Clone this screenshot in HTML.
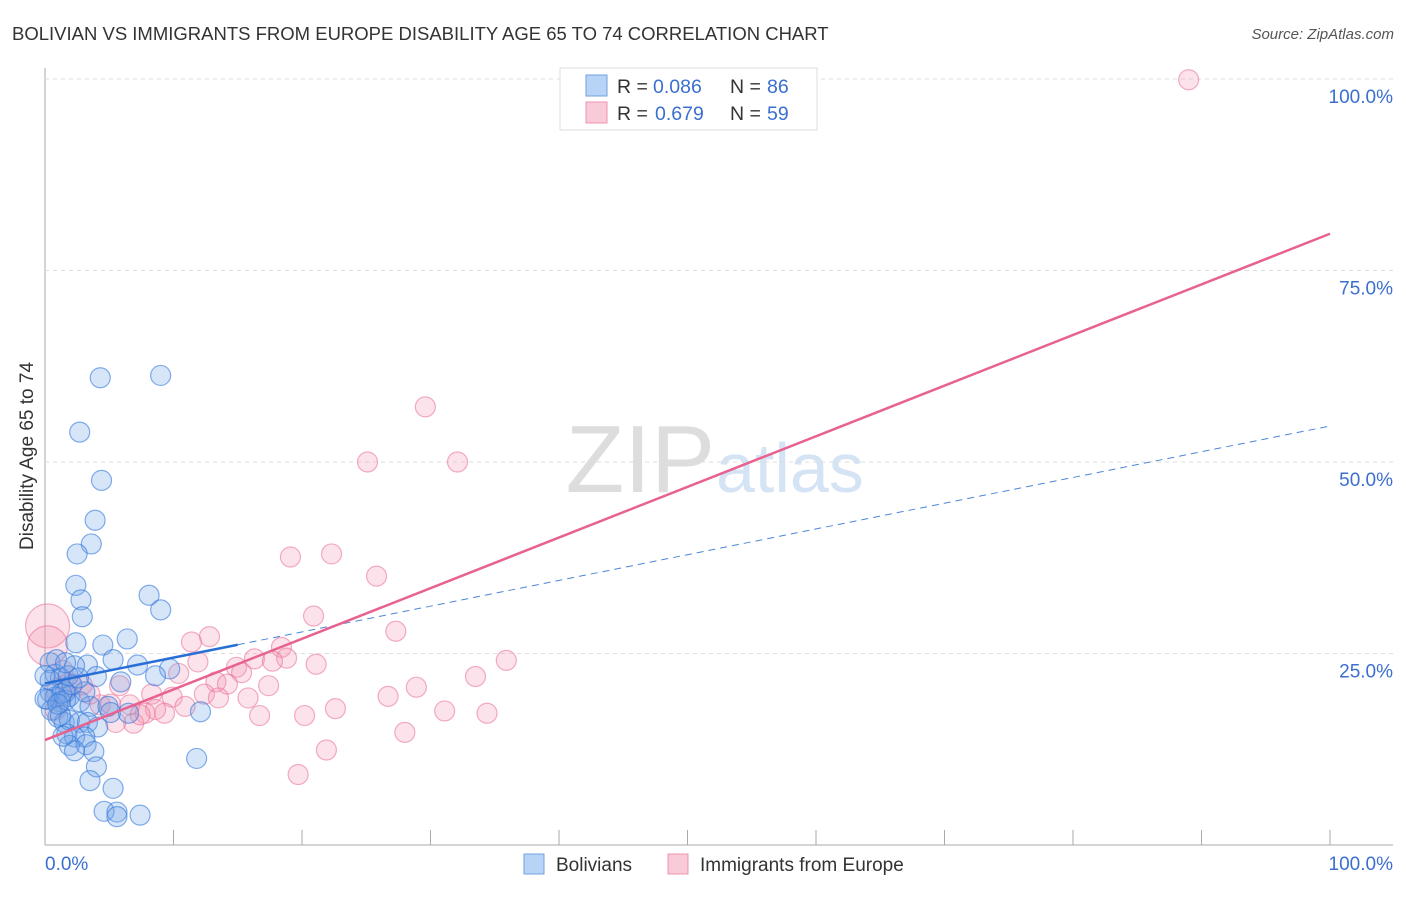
<!DOCTYPE html>
<html><head><meta charset="utf-8"><style>
body{margin:0;background:#fff;font-family:"Liberation Sans",sans-serif;}
svg text{font-family:"Liberation Sans",sans-serif;}
</style></head><body>
<svg id="chart" width="1406" height="892">
<text x="12" y="40" font-size="18.5" fill="#333">BOLIVIAN VS IMMIGRANTS FROM EUROPE DISABILITY AGE 65 TO 74 CORRELATION CHART</text>
<text x="1394" y="39" font-size="15" fill="#555" font-style="italic" text-anchor="end">Source: ZipAtlas.com</text>
<text x="33" y="456" font-size="19" fill="#333" text-anchor="middle" transform="rotate(-90 33 456)">Disability Age 65 to 74</text>
<text x="715" y="492" font-size="96" fill="#ddd" text-anchor="end" font-family="Liberation Serif">ZIP</text>
<text x="716" y="492" font-size="70" fill="#d5e4f5">atlas</text>
<g id="grid"></g><g id="pts"></g><g id="lines"></g>
<g>
<rect x="560" y="68" width="257" height="62" fill="#fff" stroke="#ddd"/>
<rect x="586" y="75" width="21" height="21" fill="#b7d3f5" stroke="#6fa1e0"/>
<rect x="586" y="102" width="21" height="21" fill="#f9cad8" stroke="#ec94ad"/>
<text x="617" y="93" font-size="19.5" fill="#333">R =</text>
<text x="653" y="93" font-size="19.5" fill="#3a6fd0">0.086</text>
<text x="730" y="93" font-size="19.5" fill="#333">N =</text>
<text x="767" y="93" font-size="19.5" fill="#3a6fd0">86</text>
<text x="617" y="120" font-size="19.5" fill="#333">R =</text>
<text x="655" y="120" font-size="19.5" fill="#3a6fd0">0.679</text>
<text x="730" y="120" font-size="19.5" fill="#333">N =</text>
<text x="767" y="120" font-size="19.5" fill="#3a6fd0">59</text>
</g>
<g>
<rect x="524" y="854" width="20" height="20" fill="#b7d3f5" stroke="#6fa1e0"/>
<text x="556" y="871" font-size="19" fill="#333">Bolivians</text>
<rect x="668" y="854" width="20" height="20" fill="#f9cad8" stroke="#ec94ad"/>
<text x="700" y="871" font-size="19" fill="#333">Immigrants from Europe</text>
</g>
<text x="45" y="870" font-size="19" fill="#3a6fd0">0.0%</text>
<text x="1393" y="870" font-size="19" fill="#3a6fd0" text-anchor="end">100.0%</text>
</svg>
<script>
const yTicks=[25,50,75,100];
const yTickLabels=["25.0%","50.0%","75.0%","100.0%"];
const blueX=[4.3,9,2.7,4.4,3.9,3.6,2.5,2.4,2.8,2.9,8.1,9,2.4,4.5,6.4,3.3,5.3,7.2,9.7,8.6,4,5.9,2.3,0.4,0.8,1.2,1.6,1.9,0.4,0.8,1.2,1.6,2.7,3.5,4.9,5.1,6.5,12.1,1,1.5,1.9,2.7,3.3,4.1,1.7,2.3,3.1,1.9,3.2,3.8,2.3,11.8,4,3.5,5.3,4.6,5.6,5.6,7.4,0.4,0.2,0.5,0.9,1.3,2.1,3.1,0,0,1.8,2.6,1.2,1.4,1,1.6];
const blueY=[61,61.3,53.9,47.6,42.4,39.3,38,33.9,32,29.8,32.6,30.7,26.4,26.1,26.9,23.5,24.2,23.5,23,22.1,22,21.3,23.4,23.8,22.3,21.8,20,19.4,20,19.3,18.7,18.9,18.7,18.1,18.1,17.3,17.2,17.4,16.7,16,16.3,16,16,15.4,14.5,14.1,14.1,13,13.1,12.2,12.3,11.3,10.2,8.4,7.4,4.4,4.3,3.7,3.9,21.5,19,17.6,24.2,19.8,20.9,20,22.1,19.1,22.1,21.8,16.9,14.2,18.4,23.8];
const pinkX=[89,29.6,25.1,32.1,19.1,22.3,25.8,20.9,27.3,12.8,11.4,16.3,18.4,18.8,21.1,17.7,11.9,35.9,33.5,14.9,15.3,10.4,13.3,14.2,17.4,28.9,26.7,8.3,9.9,12.4,13.5,15.8,22.6,31.1,34.4,16.7,20.2,9.3,7.8,6.9,10.9,28,21.9,19.7,0.2,0.2,4.3,5.8,1.2,5.1,1.9,3.5,6.6,8.6,2.9,1.4,0.8,7.4,5.5];
const pinkY=[99.9,57.2,50,50,37.6,38,35.1,29.9,27.9,27.2,26.5,24.3,25.8,24.4,23.6,24,23.9,24.1,22,23.2,22.5,22.4,21.3,21,20.8,20.6,19.4,19.7,19.3,19.7,19.2,19.2,17.8,17.5,17.2,16.9,16.9,17.2,17.2,15.9,18.1,14.7,12.4,9.2,28.6,26,18.3,20.8,20,18.4,20.9,19.7,18.3,17.7,20.9,22.8,17.6,17,16.0];
const pinkR=[10,10,10,10,10,10,10,10,10,10,10,10,10,10,10,10,10,10,10,10,10,10,10,10,10,10,10,10,10,10,10,10,10,10,10,10,10,10,10,10,10,10,10,10,22,20,10,10,14,10,12,10,10,10,10,10,10,10,10];
const blueLine=[21.1,54.7];
const pinkLine=[13.7,79.8];
const ns="http://www.w3.org/2000/svg";
const X=v=>45+v*12.85, Y=v=>845-v*7.66;
function mk(t,a,p){const e=document.createElementNS(ns,t);for(const k in a)e.setAttribute(k,a[k]);p.appendChild(e);return e;}
const g=document.getElementById('grid');
mk('line',{x1:45,y1:68,x2:45,y2:845,stroke:'#aaa'},g);
mk('line',{x1:45,y1:845,x2:1393,y2:845,stroke:'#aaa'},g);
for(let i=1;i<=10;i++){const t=mk('line',{x1:45+i*128.5,y1:830,x2:45+i*128.5,y2:845,stroke:'#aaa'},g);

}
yTicks.forEach((v,i)=>{const l=mk('line',{x1:45,y1:Y(v),x2:1393,y2:Y(v),stroke:'#ddd','stroke-dasharray':'4,4'},g);


const t=mk('text',{x:1393,y:Y(v)+24,'font-size':19,fill:'#3a6fd0','text-anchor':'end'},g);t.textContent=yTickLabels[i];

});
const p=document.getElementById('pts');
pinkX.forEach((x,i)=>{const c=mk('circle',{cx:X(x),cy:Y(pinkY[i]),r:pinkR[i],fill:'rgba(244,150,180,0.28)',stroke:'rgba(232,110,150,0.55)','stroke-width':1.2},p);

});
blueX.forEach((x,i)=>{const c=mk('circle',{cx:X(x),cy:Y(blueY[i]),r:10,fill:'rgba(110,160,230,0.28)',stroke:'rgba(50,120,220,0.6)','stroke-width':1.2},p);

});
const L=document.getElementById('lines');
const bf=x=>blueLine[0]+(blueLine[1]-blueLine[0])*x/100;
const pf=x=>pinkLine[0]+(pinkLine[1]-pinkLine[0])*x/100;
let a=mk('line',{x1:X(15),y1:Y(bf(15)),x2:X(100),y2:Y(bf(100)),stroke:'#4d86d8','stroke-width':1,'stroke-dasharray':'7,5'},L);


a=mk('line',{x1:X(0),y1:Y(pf(0)),x2:X(100),y2:Y(pf(100)),stroke:'#e8628f','stroke-width':2.5},L);


a=mk('line',{x1:X(0),y1:Y(bf(0)),x2:X(15),y2:Y(bf(15)),stroke:'#2a6fd6','stroke-width':2.5},L);


</script>
</body></html>
